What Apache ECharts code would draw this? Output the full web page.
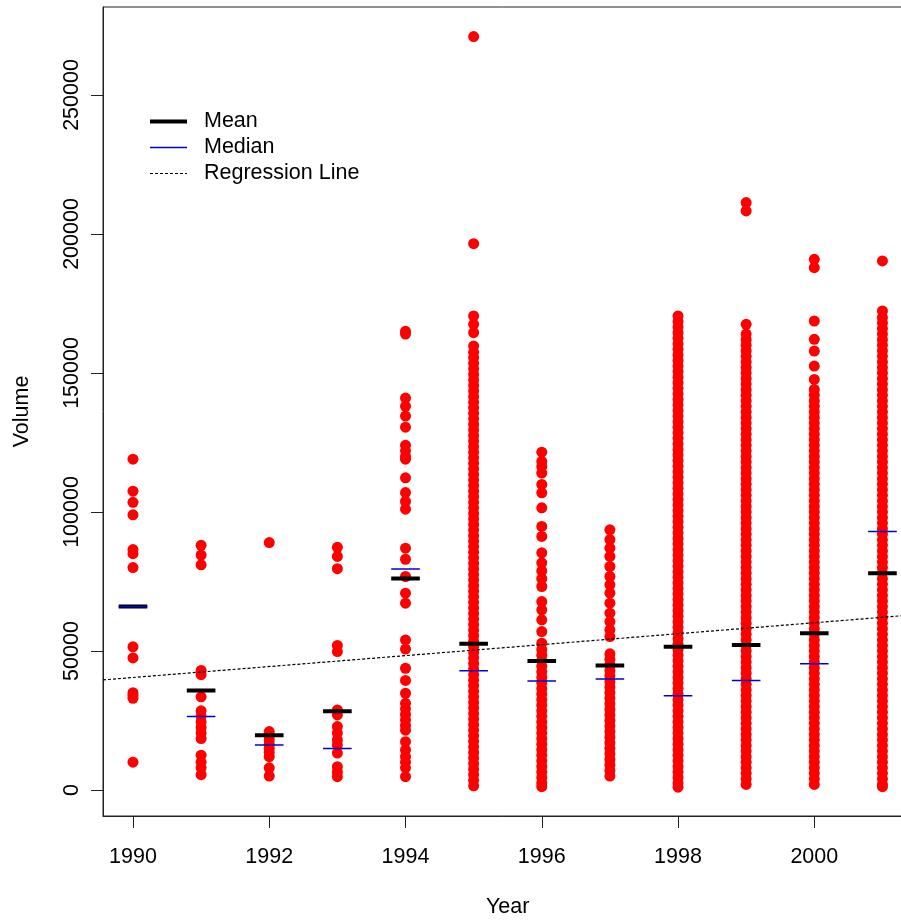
<!DOCTYPE html>
<html>
<head>
<meta charset="utf-8">
<script src="https://cdn.jsdelivr.net/npm/echarts@6/dist/echarts.min.js"></script>
<style>
html,body{margin:0;padding:0;background:#fff;}
#chart{width:901px;height:922px;}
</style>
</head>
<body>
<div id="chart"></div>
<script>
// ---- data (volumes in thousands) ----
const UNIT = 1000;
const years = [1990, 1991, 1992, 1993, 1994, 1995, 1996, 1997, 1998, 1999, 2000, 2001];
const xTickValues = [1990, 1992, 1994, 1996, 1998, 2000];
const yTickValues = [0, 50000, 100000, 150000, 200000, 250000];

const v1990 = [119, 107.5, 103.5, 99, 86.5, 85, 80, 51.5, 47.5, 35, 34, 33, 10];
const v1991 = [88, 84.5, 81, 43, 41.5, 33.5, 28.5, 26.5, 24.5, 22.5, 20.5, 18.5, 12.5, 10, 8, 5.5];
const v1992 = [89, 21, 19.5, 18, 16.5, 15, 13.5, 12, 8, 5];
const v1993 = [87.3, 84, 79.6, 52, 49.8, 28.8, 27, 22.8, 20.5, 18, 16.2, 13.3, 8.4, 6.5, 4.8];
const v1994 = [165, 164, 141, 138, 134.5, 130.5, 124, 122, 120, 119, 112.3, 107, 103.8, 101, 87, 83, 76.8, 70.8, 67.2,
  54, 50.7, 43.8, 39.4, 34.8, 31.2, 29.2, 27.2, 25.2, 23.2, 21.5, 17.4, 14.4, 12, 10, 8, 4.8];
const v1995 = [271, 196.5, 170.5, 167.5, 164.5, 159.7, 157.5, 155.5, 153.5, 151.5, 149.5, 147.5, 145.5, 143.5, 141.5,
  139.5, 137.5, 135.5, 133.5, 131.5, 129.5, 127.5, 125.5, 123.5, 121.5, 119.5, 117.5, 115.5, 113.5, 111.5, 109.5,
  107.5, 105.5, 103.5, 101.5, 99.5, 97.5, 95.5, 93.5, 91.5, 89.5, 87.5, 85.5, 83.5, 81.5, 79.5, 77.5, 75.5, 73.5,
  71.5, 69.5, 67.5, 65.5, 63.5, 61.5, 59.5, 57.5, 55.5, 53.5, 51.5, 49.5, 47.5, 45.5, 43.5, 41.5, 39.5, 37.5, 35.5,
  33.5, 31.5, 29.5, 27.5, 25.5, 23.5, 21.5, 19.5, 17.5, 15.5, 13.5, 11.5, 9.5, 7.5, 5.5, 3.5, 1.5];
const v1996 = [121.5, 118.2, 116.4, 114, 109.9, 106.9, 101.5, 94.8, 91.2, 85.3, 81.7, 78.8, 76, 73.2, 67.8, 64.8, 61.2,
  57, 52.8, 50.5, 48.5, 46.5, 44.5, 42.5, 40.5, 38.5, 36.5, 34.5, 32.5, 30.5, 28.5, 26.5, 24.5, 22.5, 20.5, 18.5,
  16.5, 14.5, 12.5, 10.5, 8.5, 6.5, 4.5, 2.5, 1.2];
const v1997 = [93.6, 90.1, 87, 84, 80.4, 76.8, 73.8, 70.8, 67.2, 63.6, 60.6, 57.6, 55.2, 49, 47, 45, 43, 41, 39, 37,
  35, 33, 31, 29, 27, 25, 23, 21, 19, 17, 15, 13, 11, 9, 7, 5];
const v1998 = [170.5, 168.5, 166.5, 164.5, 162.5, 160.5, 158.5, 156.5, 154.5, 152.5, 150.5, 148.5, 146.5, 144.5, 142.5,
  140.5, 138.5, 136.5, 134.5, 132.5, 130.5, 128.5, 126.5, 124.5, 122.5, 120.5, 118.5, 116.5, 114.5, 112.5, 110.5,
  108.5, 106.5, 104.5, 102.5, 100.5, 98.5, 96.5, 94.5, 92.5, 90.5, 88.5, 86.5, 84.5, 82.5, 80.5, 78.5, 76.5, 74.5,
  72.5, 70.5, 68.5, 66.5, 64.5, 62.5, 60.5, 58.5, 56.5, 54.5, 52.5, 50.5, 48.5, 46.5, 44.5, 42.5, 40.5, 38.5, 36.5,
  34.5, 32.5, 30.5, 28.5, 26.5, 24.5, 22.5, 20.5, 18.5, 16.5, 14.5, 12.5, 10.5, 8.5, 6.5, 4.5, 2.5, 1];
const v1999 = [211.3, 208.3, 167.5, 164, 162, 160, 158, 156, 154, 152, 150, 148, 146, 144, 142, 140, 138, 136, 134, 132,
  130, 128, 126, 124, 122, 120, 118, 116, 114, 112, 110, 108, 106, 104, 102, 100, 98, 96, 94, 92, 90, 88, 86, 84, 82,
  80, 78, 76, 74, 72, 70, 68, 66, 64, 62, 60, 58, 56, 54, 52, 50, 48, 46, 44, 42, 40, 38, 36, 34, 32, 30, 28, 26, 24,
  22, 20, 18, 16, 14, 12, 10, 8, 6, 4, 2];
const v2000 = [190.9, 187.9, 168.7, 162.1, 157.9, 152.5, 147.7, 144.1, 142, 140, 138, 136, 134, 132, 130, 128, 126, 124,
  122, 120, 118, 116, 114, 112, 110, 108, 106, 104, 102, 100, 98, 96, 94, 92, 90, 88, 86, 84, 82, 80, 78, 76, 74, 72,
  70, 68, 66, 64, 62, 60, 58, 56, 54, 52, 50, 48, 46, 44, 42, 40, 38, 36, 34, 32, 30, 28, 26, 24, 22, 20, 18, 16, 14,
  12, 10, 8, 6, 4, 2];
const v2001 = [190.3, 172.3, 170, 168, 166, 164, 162, 160, 158, 156, 154, 152, 150, 148, 146, 144, 142, 140, 138, 136,
  134, 132, 130, 128, 126, 124, 122, 120, 118, 116, 114, 112, 110, 108, 106, 104, 102, 100, 98, 96, 94, 92, 90, 88, 86,
  84, 82, 80, 78, 76, 74, 72, 70, 68, 66, 64, 62, 60, 58, 56, 54, 52, 50, 48, 46, 44, 42, 40, 38, 36, 34, 32, 30, 28,
  26, 24, 22, 20, 18, 16, 14, 12, 10, 8, 6, 4, 2, 1.2];

const meanValues   = [66, 35.8, 19.7, 28.3, 76.1, 52.6, 46.4, 44.8, 51.5, 52.2, 56.4, 78];
const medianValues = [66, 26.4, 16.2, 14.9, 79.5, 42.9, 39.2, 39.9, 33.9, 39.4, 45.4, 93];

// regression line endpoints (at the plot's x limits)
const regressionYears  = [1989.56, 2001.44];
const regressionValues = [39.6, 63.0];

// ---- build ----
const FONT = "'Liberation Sans', Arial, Helvetica, sans-serif";
const FS = 21.5;
const HALF = 0.21; // half-width of mean/median segments (years)
const MEAN_W = 4, MEDIAN_W = 1.5, REG_W = 1.2;
const MEDIAN_COLOR = '#0000dd';
const volumesByYear = [v1990, v1991, v1992, v1993, v1994, v1995, v1996, v1997, v1998, v1999, v2000, v2001];

const pointData = [];
years.forEach((yr, i) => volumesByYear[i].forEach(v => pointData.push([yr, v * UNIT])));

function segments(vals) {
  const out = [];
  years.forEach((yr, i) => {
    out.push([yr - HALF, vals[i] * UNIT]);
    out.push([yr + HALF, vals[i] * UNIT]);
    out.push([yr + HALF, '-']);
  });
  return out;
}
const regData = regressionYears.map((yr, i) => [yr, regressionValues[i] * UNIT]);

const chart = echarts.init(document.getElementById('chart'), null, {renderer: 'canvas'});
chart.setOption({
  animation: false,
  backgroundColor: '#fff',
  textStyle: {fontFamily: FONT},
  grid: {left: 103, right: -11.4, top: 7, bottom: 106, show: true, borderColor: '#222', borderWidth: 1,
         backgroundColor: 'transparent', outerBoundsMode: 'none', containLabel: false},
  legend: {
    left: 143, top: 105.5, orient: 'vertical',
    itemWidth: 37, itemHeight: 14, itemGap: 4,
    data: [
      {name: 'Mean', lineStyle: {width: MEAN_W, color: '#000'}},
      {name: 'Median', lineStyle: {width: MEDIAN_W, color: MEDIAN_COLOR}},
      {name: 'Regression Line', lineStyle: {width: REG_W, color: '#000', type: [3, 2]}}
    ],
    itemStyle: {color: 'transparent', borderColor: 'transparent', borderWidth: 0, opacity: 0},
    textStyle: {fontSize: FS, color: '#000', fontFamily: FONT, lineHeight: 21, padding: [0, 0, 0, 12]},
    selectedMode: false
  },
  xAxis: {
    type: 'value', min: 1989.56, max: 2001.44,
    axisLine: {show: true, onZero: false, lineStyle: {color: '#222', width: 1}},
    splitLine: {show: false},
    axisTick: {show: true, length: 12, customValues: xTickValues, lineStyle: {color: '#222', width: 1}},
    axisLabel: {show: true, customValues: xTickValues, margin: 30, fontSize: FS, color: '#000', fontFamily: FONT,
                formatter: v => String(v)},
    name: 'Year', nameLocation: 'middle', nameGap: 80,
    nameTextStyle: {fontSize: FS, color: '#000', fontFamily: FONT}
  },
  yAxis: {
    type: 'value', min: -9350, max: 281650,
    axisLine: {show: true, onZero: false, lineStyle: {color: '#222', width: 1}},
    splitLine: {show: false},
    axisTick: {show: true, length: 12, customValues: yTickValues, lineStyle: {color: '#222', width: 1}},
    axisLabel: {show: true, customValues: yTickValues, rotate: 90, margin: 20, fontSize: FS, color: '#000',
                fontFamily: FONT, formatter: v => String(v)},
    name: 'Volume', nameLocation: 'middle', nameGap: 70,
    nameTextStyle: {fontSize: FS, color: '#000', fontFamily: FONT}
  },
  series: [
    {
      name: 'Volume', type: 'scatter', data: pointData, symbol: 'circle', symbolSize: 11,
      itemStyle: {color: '#ff0000', opacity: 1}, silent: true, z: 2
    },
    {
      name: 'Regression Line', type: 'line', data: regData, symbol: 'none', showSymbol: false,
      itemStyle: {color: '#000'},
      lineStyle: {color: '#000', width: REG_W, type: [3, 2]}, silent: true, z: 3
    },
    {
      name: 'Mean', type: 'line', data: segments(meanValues), symbol: 'none', showSymbol: false,
      itemStyle: {color: '#000'},
      connectNulls: false, lineStyle: {color: '#000', width: MEAN_W, cap: 'butt'}, silent: true, z: 4
    },
    {
      name: 'Median', type: 'line', data: segments(medianValues), symbol: 'none', showSymbol: false,
      itemStyle: {color: MEDIAN_COLOR},
      connectNulls: false, lineStyle: {color: MEDIAN_COLOR, width: MEDIAN_W, cap: 'butt'}, silent: true, z: 5
    }
  ]
});
</script>
</body>
</html>
